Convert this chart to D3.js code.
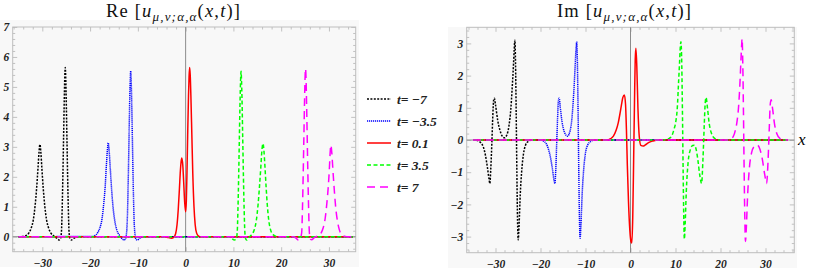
<!DOCTYPE html>
<html>
<head>
<meta charset="utf-8">
<script src="https://cdnjs.cloudflare.com/ajax/libs/d3/7.8.5/d3.min.js"></script>
<style>
  body { margin: 0; background: #fff; }
  svg text { font-family: "Liberation Serif", "Times New Roman", serif; }
</style>
</head>
<body>
<div id="chart"></div>
<script>
// legend labels (one per time value)
const timeLabels = ["t= \u22127", "t= \u22123.5", "t= 0.1", "t= 3.5", "t= 7"];

// Re[u] curves as [x, value]
const re_tm7 = [[-35,0],[-34,0.01],[-33.3,0.05],[-32.8,0.13],[-32.3,0.3],[-31.9,0.55],[-31.5,1.05],[-31.2,1.6],[-30.9,2.3],[-30.7,2.8],[-30.5,3.08],[-30.3,2.8],[-30.1,2.3],[-29.8,1.6],[-29.5,1.05],[-29.1,0.55],[-28.7,0.3],[-28.2,0.12],[-27.7,0.04],[-27.2,-0.02],[-26.8,-0.07],[-26.45,-0.11],[-26.2,-0.06],[-26.0,0.15],[-25.85,0.9],[-25.7,2.0],[-25.55,3.3],[-25.4,4.6],[-25.3,5.3],[-25.2,5.65],[-25.1,5.3],[-25.0,4.6],[-24.85,3.3],[-24.7,2.0],[-24.55,0.9],[-24.4,0.15],[-24.2,-0.06],[-23.9,-0.11],[-23.5,-0.06],[-23.0,-0.02],[-22.2,0],[35,0]];
const re_tm35 = [[-35,0],[-19.5,0.01],[-18.8,0.06],[-18.4,0.14],[-17.9,0.32],[-17.5,0.6],[-17.15,1.1],[-16.85,1.65],[-16.6,2.35],[-16.4,2.85],[-16.2,3.13],[-16.0,2.85],[-15.8,2.35],[-15.5,1.6],[-15.2,1.0],[-14.8,0.5],[-14.4,0.22],[-13.9,0.06],[-13.4,-0.05],[-12.9,-0.11],[-12.6,-0.07],[-12.35,0.15],[-12.15,0.9],[-12.0,2.0],[-11.85,3.3],[-11.7,4.6],[-11.6,5.2],[-11.5,5.53],[-11.4,5.2],[-11.3,4.6],[-11.15,3.3],[-11.0,2.0],[-10.85,0.9],[-10.65,0.15],[-10.4,-0.08],[-10.1,-0.11],[-9.7,-0.06],[-9.2,-0.02],[-8.4,0],[35,0]];
const re_t01 = [[-35,0],[-4.5,0],[-3.6,-0.03],[-3.0,-0.05],[-2.5,-0.02],[-2.1,0.1],[-1.8,0.4],[-1.55,0.9],[-1.3,1.6],[-1.1,2.2],[-0.95,2.5],[-0.8,2.63],[-0.6,2.4],[-0.4,1.8],[-0.2,1.15],[0,0.83],[0.15,1.2],[0.3,2.3],[0.45,3.6],[0.6,4.7],[0.72,5.35],[0.84,5.65],[0.96,5.4],[1.1,4.7],[1.3,3.4],[1.5,2.1],[1.75,1.0],[2.0,0.4],[2.3,0.12],[2.7,0.02],[3.2,-0.01],[4,0],[35,0]];
const re_t35 = [[-35,0],[9.2,0],[9.7,-0.06],[10.2,-0.11],[10.6,-0.06],[10.8,0.15],[10.95,0.9],[11.1,2.0],[11.25,3.3],[11.4,4.6],[11.5,5.2],[11.6,5.52],[11.7,5.2],[11.8,4.6],[11.95,3.3],[12.1,2.0],[12.25,0.9],[12.4,0.15],[12.6,-0.08],[12.8,-0.11],[13.1,-0.06],[13.5,0.02],[14.0,0.1],[14.4,0.25],[14.8,0.55],[15.15,1.05],[15.45,1.65],[15.75,2.35],[15.95,2.85],[16.2,3.11],[16.4,2.85],[16.6,2.35],[16.85,1.65],[17.1,1.05],[17.4,0.55],[17.8,0.22],[18.3,0.07],[19,0.01],[20,0],[35,0]];
const re_t7 = [[-35,0],[22.6,0],[23.1,-0.05],[23.6,-0.11],[24.0,-0.06],[24.3,0.15],[24.45,0.9],[24.6,2.0],[24.75,3.3],[24.9,4.6],[25.0,5.3],[25.1,5.61],[25.2,5.3],[25.3,4.6],[25.45,3.3],[25.6,2.0],[25.75,0.9],[25.9,0.15],[26.1,-0.08],[26.4,-0.1],[26.8,-0.05],[27.3,0],[27.9,0.05],[28.4,0.14],[28.8,0.3],[29.2,0.6],[29.55,1.1],[29.85,1.65],[30.1,2.3],[30.25,2.8],[30.4,3.06],[30.6,2.8],[30.8,2.3],[31.1,1.6],[31.4,1.0],[31.8,0.5],[32.2,0.22],[32.7,0.07],[33.4,0.01],[34,0],[35,0]];

// Im[u] curves as [x, value]
const im_tm7 = [[-35,0],[-34,-0.02],[-33.3,-0.08],[-32.7,-0.22],[-32.2,-0.5],[-31.8,-0.85],[-31.45,-1.2],[-31.25,-1.35],[-31.05,-0.9],[-30.8,-0.05],[-30.6,0.75],[-30.4,1.25],[-30.25,1.3],[-30.0,1.1],[-29.5,0.6],[-29.0,0.3],[-28.5,0.12],[-28.0,0.07],[-27.5,0.15],[-27.0,0.45],[-26.6,0.95],[-26.3,1.6],[-26.0,2.35],[-25.85,2.8],[-25.7,3.1],[-25.55,2.4],[-25.4,0.8],[-25.25,-1.0],[-25.1,-2.5],[-24.95,-3.1],[-24.75,-2.6],[-24.5,-1.7],[-24.2,-1.0],[-23.8,-0.45],[-23.3,-0.15],[-22.7,-0.04],[-22,0],[35,0]];
const im_tm35 = [[-35,0],[-20,0],[-19.4,-0.03],[-18.7,-0.12],[-18.2,-0.3],[-17.7,-0.6],[-17.3,-0.95],[-17.0,-1.25],[-16.8,-1.35],[-16.6,-0.9],[-16.4,-0.1],[-16.2,0.7],[-16.0,1.25],[-15.85,1.3],[-15.6,1.0],[-15.2,0.55],[-14.7,0.25],[-14.0,0.12],[-13.4,0.3],[-13.0,0.7],[-12.6,1.5],[-12.3,2.3],[-12.1,2.85],[-11.95,3.05],[-11.8,2.4],[-11.65,0.9],[-11.5,-0.9],[-11.35,-2.4],[-11.2,-3.05],[-11.0,-2.6],[-10.75,-1.7],[-10.45,-1.0],[-10.05,-0.45],[-9.5,-0.15],[-8.8,-0.04],[-8,0],[35,0]];
const im_t01 = [[-35,0],[-5,0],[-4.4,0.04],[-3.8,0.12],[-3.2,0.3],[-2.7,0.55],[-2.3,0.85],[-2.0,1.1],[-1.7,1.32],[-1.35,1.4],[-1.1,1.1],[-0.9,0.3],[-0.7,-0.8],[-0.45,-1.9],[-0.15,-2.8],[0.1,-3.15],[0.3,-3.2],[0.5,-2.4],[0.7,-0.6],[0.9,1.3],[1.05,2.5],[1.2,2.85],[1.4,2.3],[1.65,1.0],[1.95,0.1],[2.3,-0.17],[2.8,-0.19],[3.3,-0.15],[4.0,-0.08],[5.0,-0.03],[6.2,0],[35,0]];
const im_t35 = [[-35,0],[7.2,0],[8.0,0.02],[8.7,0.06],[9.15,0.12],[9.7,0.35],[10.1,0.6],[10.4,1.0],[10.65,1.7],[10.9,2.4],[11.05,2.85],[11.2,3.05],[11.4,2.3],[11.55,0.8],[11.7,-1.0],[11.85,-2.5],[11.97,-3.08],[12.15,-2.6],[12.4,-1.6],[12.8,-0.7],[13.3,-0.3],[13.8,-0.17],[14.2,-0.16],[14.6,-0.3],[15.0,-0.65],[15.4,-1.1],[15.8,-1.35],[16.1,-0.6],[16.4,0.5],[16.6,1.15],[16.8,1.32],[17.1,1.0],[17.5,0.5],[18.0,0.2],[18.7,0.05],[19.5,0],[35,0]];
const im_t7 = [[-35,0],[21.5,0],[22.2,0.03],[22.8,0.1],[23.3,0.3],[23.7,0.6],[24.0,1.0],[24.3,1.7],[24.55,2.5],[24.7,2.95],[24.8,3.15],[24.95,2.4],[25.1,0.9],[25.25,-0.9],[25.4,-2.4],[25.55,-3.15],[25.75,-2.7],[26.0,-1.8],[26.4,-0.9],[26.9,-0.4],[27.5,-0.2],[28.2,-0.16],[28.8,-0.3],[29.3,-0.6],[29.8,-1.05],[30.25,-1.35],[30.55,-0.7],[30.85,0.4],[31.05,1.1],[31.25,1.25],[31.55,1.0],[32.0,0.5],[32.5,0.2],[33.2,0.05],[34,0.01],[35,0]];

// tick values
const xTicks = [-30, -20, -10, 0, 10, 20, 30];
const reYTicks = [0, 1, 2, 3, 4, 5, 6, 7];
const imYTicks = [-3, -2, -1, 0, 1, 2, 3];

// line styles for the five time values
const lineStyles = [
    {color: "#000000", dash: "2,1.4"},
    {color: "#0000ff", dash: "1.2,0.8"},
    {color: "#ff0000", dash: null},
    {color: "#00ff00", dash: "4,2.5"},
    {color: "#ff00ff", dash: "8,5"}
];

const width = 814, height = 273;
const serif = "'Liberation Serif', 'Times New Roman', serif";

let svg = d3.select("#chart")
    .append("svg")
    .attr("width", width)
    .attr("height", height);

/**
 * Draws one framed panel (background, frame ticks, axes at zero, curves)
 */
function drawPanel(cfg) {
    let x = d3.scaleLinear().domain(cfg.xDomain).range([cfg.left, cfg.right]);
    let y = d3.scaleLinear().domain(cfg.yDomain).range([cfg.bottom, cfg.top]);

    // background
    svg.append("rect")
        .attr("x", cfg.bg[0]).attr("y", cfg.bg[1])
        .attr("width", cfg.bg[2] - cfg.bg[0]).attr("height", cfg.bg[3] - cfg.bg[1])
        .style("fill", "#f8f8f8");

    // minor tick values
    let xMinor = d3.range(-36, 37, 2).filter(v => v % 10 !== 0 && v >= cfg.xDomain[0] && v <= cfg.xDomain[1]);
    let yMinor = d3.range(Math.ceil(cfg.yDomain[0] * 5), Math.floor(cfg.yDomain[1] * 5) + 1)
        .map(v => v / 5).filter(v => Math.abs(v - Math.round(v)) > 1e-6);

    // frame axes: major + minor ticks pointing inward
    const frameAxis = (axisFn, scale, ticks, size, labels, transform) => {
        let g = svg.append("g")
            .attr("transform", transform)
            .call(axisFn(scale).tickValues(ticks).tickSizeInner(-size).tickSizeOuter(0)
                .tickPadding(labels ? 3.5 : 0)
                .tickFormat(labels ? (d => d3.format("")(d).replace("-", "\u2212")) : ""));
        g.select(".domain").remove();
        g.selectAll(".tick line").style("stroke", "#b4b4b4").style("stroke-width", 0.8);
        g.selectAll(".tick text")
            .style("font-family", serif)
            .style("font-weight", "bold")
            .style("font-style", "italic")
            .style("font-size", "11.5px")
            .style("fill", "#222");
        return g;
    };
    frameAxis(d3.axisBottom, x, xTicks, 4.5, true, `translate(0,${cfg.bottom})`)
        .selectAll("text").attr("dy", "1.05em");
    frameAxis(d3.axisBottom, x, xMinor, 2.5, false, `translate(0,${cfg.bottom})`);
    frameAxis(d3.axisTop, x, xTicks, 4.5, false, `translate(0,${cfg.top})`);
    frameAxis(d3.axisTop, x, xMinor, 2.5, false, `translate(0,${cfg.top})`);
    frameAxis(d3.axisLeft, y, cfg.yTicks, 4.5, true, `translate(${cfg.left},0)`);
    frameAxis(d3.axisLeft, y, yMinor, 2.5, false, `translate(${cfg.left},0)`);
    frameAxis(d3.axisRight, y, cfg.yTicks, 4.5, false, `translate(${cfg.right},0)`);
    frameAxis(d3.axisRight, y, yMinor, 2.5, false, `translate(${cfg.right},0)`);

    // frame box
    svg.append("rect")
        .attr("x", cfg.left).attr("y", cfg.top)
        .attr("width", cfg.right - cfg.left).attr("height", cfg.bottom - cfg.top)
        .style("fill", "none").style("stroke", "#bdbdbd").style("stroke-width", 1);

    // axes through the origin
    svg.append("line")
        .attr("x1", x(0)).attr("x2", x(0)).attr("y1", cfg.top).attr("y2", cfg.bottom)
        .style("stroke", "#8c8c8c").style("stroke-width", 1);
    svg.append("line")
        .attr("x1", cfg.left).attr("x2", cfg.right).attr("y1", y(0)).attr("y2", y(0))
        .style("stroke", "#8c8c8c").style("stroke-width", 1);

    // curves
    let line = d3.line()
        .x(d => x(d[0]))
        .y(d => y(d[1]))
        .curve(d3.curveMonotoneX);

    cfg.series.forEach((s, i) => {
        svg.append("path")
            .datum(s)
            .attr("d", line)
            .style("fill", "none")
            .style("stroke", lineStyles[i].color)
            .style("stroke-width", 1.5)
            .style("stroke-dasharray", lineStyles[i].dash);
    });

    // title, stretched to the width of the reference title
    let t = svg.append("text")
        .attr("x", cfg.titleX).attr("y", 17)
        .attr("textLength", 134)
        .attr("lengthAdjust", "spacing")
        .style("font-family", serif)
        .style("font-size", "18.5px")
        .style("fill", "#111");
    t.append("tspan").text(cfg.titlePrefix + " [");
    t.append("tspan").style("font-style", "italic").text("u");
    t.append("tspan").attr("dy", 4).style("font-size", "13px").style("font-style", "italic").text("\u03bc,\u03bd;\u03b1,\u03b1");
    t.append("tspan").attr("dy", -4).text("(");
    t.append("tspan").style("font-style", "italic").text("x");
    t.append("tspan").text(",");
    t.append("tspan").style("font-style", "italic").text("t");
    t.append("tspan").text(")]");
}

drawPanel({
    left: 12.7, right: 355.7, top: 27, bottom: 251.7,
    bg: [0, 20, 359, 267],
    xDomain: [-36.2, 35.6], yDomain: [-0.5, 7],
    yTicks: reYTicks,
    series: [re_tm7, re_tm35, re_t01, re_t35, re_t7],
    titleX: 106, titlePrefix: "Re"
});

drawPanel({
    left: 466.7, right: 794.3, top: 27.3, bottom: 252.7,
    bg: [448, 27, 797, 268],
    xDomain: [-36.4, 36.4], yDomain: [-3.5, 3.5],
    yTicks: imYTicks,
    series: [im_tm7, im_tm35, im_t01, im_t35, im_t7],
    titleX: 557, titlePrefix: "Im"
});

// x label at the end of the horizontal axis of the right panel
svg.append("text")
    .attr("x", 798).attr("y", 145)
    .style("font-family", serif)
    .style("font-size", "17px")
    .style("font-style", "italic")
    .text("x");

// legend between the panels
let legend = svg.append("g");
timeLabels.forEach((lab, i) => {
    let ly = 99 + 22 * i;
    legend.append("line")
        .attr("x1", 367).attr("x2", 391).attr("y1", ly).attr("y2", ly)
        .style("stroke", lineStyles[i].color)
        .style("stroke-width", 1.5)
        .style("stroke-dasharray", lineStyles[i].dash);
    legend.append("text")
        .attr("x", 397).attr("y", ly + 4.5)
        .style("font-family", serif)
        .style("font-size", "13.5px")
        .style("font-weight", "bold")
        .style("font-style", "italic")
        .style("fill", "#222")
        .text(lab);
});
</script>
</body>
</html>
